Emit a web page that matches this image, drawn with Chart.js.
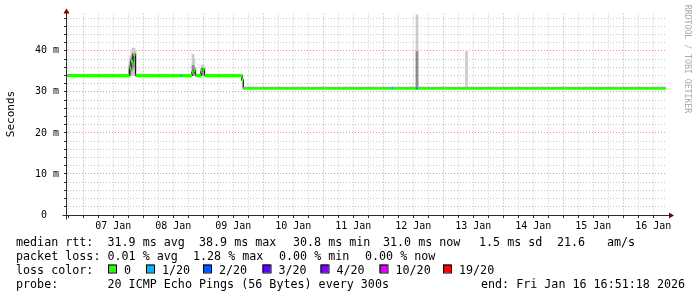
<!DOCTYPE html>
<html>
<head>
<meta charset="utf-8">
<script src="https://cdn.jsdelivr.net/npm/chart.js@4.4.1/dist/chart.umd.min.js"></script>
<style>
  html, body { margin: 0; padding: 0; background: #fff; }
  canvas { display: block; }
</style>
</head>
<body>
<canvas id="graph" width="697" height="297"></canvas>
<script>
// hours since 06 Jan 00:00 - each median value holds until the next time
const stepTimes = [17.5, 42.5, 43.1, 43.9, 44.9, 62.9, 63.5, 67.5, 68.1, 68.9, 71.1, 71.7, 72.5, 87.5, 88.0, 147.5, 147.9, 157.2, 157.8];
const endTime = 257.1;
const medianMs = [34.0, 35.8, 37.4, 39.2, 34.0, 34.0, 34.0, 34.8, 35.3, 34.0, 35.0, 35.6, 34.0, 32.9, 30.9, 30.9, 30.9, 30.8, 30.9];
const lossCount = [0, 0, 0, 0, 0, 1, 0, 0, 0, 0, 0, 0, 0, 0, 0, 1, 0, 1, 0];

// smoke: spread of the single pings
const smokeTimes = [42.7, 43.1, 43.5, 43.9, 44.3, 44.7, 67.9, 68.3, 71.5, 71.9, 157.5, 177.3];
const smokeLow  = [34.0, 34.5, 34.0, 34.5, 35.0, 34.0, 34.0, 34.0, 34.0, 34.0, 30.9, 31.4];
const smokeHigh = [37.2, 38.8, 39.8, 40.7, 40.7, 40.0, 39.2, 38.0, 36.4, 36.6, 48.8, 39.8];
const coreLow   = [34.0, 35.0, 35.5, 36.0, null, null, 34.0, 34.5, 34.0, null, 30.9, null];
const coreHigh  = [36.5, 38.0, 38.5, 39.0, null, null, 36.5, 36.0, 35.8, null, 39.8, null];

const dayLabels = ['07 Jan', '08 Jan', '09 Jan', '10 Jan', '11 Jan', '12 Jan', '13 Jan', '14 Jan', '15 Jan', '16 Jan'];
const yTicks = [0, 2, 4, 6, 8, 10, 12, 14, 16, 18, 20, 22, 24, 26, 28, 30, 32, 34, 36, 38, 40, 42, 44, 46, 48];

const lossLevels = [0, 1, 2, 3, 4, 10, 19];
const lossColors = ['#26ff00', '#00b8ff', '#0059ff', '#5e00ff', '#7e00ff', '#dd00ff', '#ff0000'];
const lossLabels = ['0', '1/20', '2/20', '3/20', '4/20', '10/20', '19/20'];

const rttLine  = ['median rtt:', '31.9 ms avg', '38.9 ms max', '30.8 ms min', '31.0 ms now', '1.5 ms sd', '21.6', 'am/s'];
const lossLine = ['packet loss:', '0.01 % avg', '1.28 % max', '0.00 % min', '0.00 % now'];
const probeLine = ['probe:', '20 ICMP Echo Pings (56 Bytes) every 300s', 'end: Fri Jan 16 16:51:18 2026'];

const MONO = '"DejaVu Sans Mono", monospace';
const GRID_GRAY = '#c4c4c4';
const GRID_RED = '#dc9a9a';

function lossColor(n) {
  let c = lossColors[0];
  lossLevels.forEach((lv, i) => { if (n >= lv) c = lossColors[i]; });
  return c;
}

// build the median segments from the step arrays
const colorPts = [];
const blackPts = [];
stepTimes.forEach((t, i) => {
  const t2 = i + 1 < stepTimes.length ? stepTimes[i + 1] : endTime;
  colorPts.push({x: t, y: medianMs[i]}, {x: t2, y: medianMs[i]}, {x: t2, y: null});
  blackPts.push({x: t, y: medianMs[i]}, {x: t2, y: medianMs[i]});
});

const smokePts = smokeTimes.map((t, i) => ({x: t, y: [smokeLow[i], smokeHigh[i]]}));
const corePts = smokeTimes.map((t, i) => ({x: t, y: [coreLow[i], coreHigh[i]]})).filter(p => p.y[0] !== null);

// x ticks every 6 hours, labels at noon
const xTickVals = [];
for (let d = 0; d <= dayLabels.length; d++) {
  [18, 24, 30, 36].forEach(h => {
    const v = 24 * d + h;
    if (v > 17.5 && v < 257.5) xTickVals.push(v);
  });
}

const decor = {
  id: 'decor',
  afterDraw(chart) {
    const ctx = chart.ctx;
    const a = chart.chartArea;
    const ax = Math.floor(a.left) - 0.5;
    const ay = Math.round(a.bottom) + 0.5;
    ctx.save();
    ctx.strokeStyle = '#2c2c2c';
    ctx.lineWidth = 1;
    ctx.beginPath();
    ctx.moveTo(ax, ay + 4);
    ctx.lineTo(ax, a.top - 1);
    ctx.moveTo(ax - 4, ay);
    ctx.lineTo(a.right + 2, ay);
    ctx.stroke();
    ctx.fillStyle = '#7f0000';
    ctx.beginPath();
    ctx.moveTo(ax - 3, a.top);
    ctx.lineTo(ax + 3, a.top);
    ctx.lineTo(ax, a.top - 5);
    ctx.closePath();
    ctx.fill();
    ctx.beginPath();
    ctx.moveTo(a.right + 2, ay - 3);
    ctx.lineTo(a.right + 2, ay + 3);
    ctx.lineTo(a.right + 7, ay);
    ctx.closePath();
    ctx.fill();

    // axis title
    ctx.fillStyle = '#000';
    ctx.font = '11px ' + MONO;
    ctx.textAlign = 'center';
    ctx.textBaseline = 'middle';
    ctx.save();
    ctx.translate(11, 114);
    ctx.rotate(-Math.PI / 2);
    ctx.fillText('Seconds', 0, 0);
    ctx.restore();

    // watermark
    ctx.save();
    ctx.fillStyle = '#a8a8a8';
    ctx.font = '8.2px ' + MONO;
    ctx.translate(687.5, 59);
    ctx.rotate(Math.PI / 2);
    ctx.fillText('RRDTOOL / TOBI OETIKER', 0, 0);
    ctx.restore();

    // legend
    ctx.font = '11.7px ' + MONO;
    ctx.textAlign = 'left';
    ctx.textBaseline = 'alphabetic';
    ctx.fillStyle = '#000';
    const rttX = [16, 107.5, 199, 293, 383, 479, 557, 607];
    rttLine.forEach((s, i) => ctx.fillText(s, rttX[i], 245.5));
    const lossX = [16, 107.5, 193, 279, 365];
    lossLine.forEach((s, i) => ctx.fillText(s, lossX[i], 259.5));
    ctx.fillText('loss color:', 16, 273.5);
    const boxX = [108, 146, 203, 262.5, 320.5, 379.5, 443];
    lossLabels.forEach((s, i) => {
      ctx.fillStyle = lossColors[i];
      ctx.fillRect(boxX[i], 264.5, 8, 8);
      ctx.strokeStyle = '#000';
      ctx.strokeRect(boxX[i] + 0.5, 264.5 + 0.5, 8, 8);
      ctx.fillStyle = '#000';
      ctx.fillText(s, boxX[i] + 16, 273.5);
    });
    const probeX = [16, 107.5, 481];
    probeLine.forEach((s, i) => ctx.fillText(s, probeX[i], 287.5));
    ctx.restore();
  }
};

new Chart(document.getElementById('graph'), {
  type: 'line',
  data: {
    datasets: [
      {
        type: 'bar',
        data: smokePts,
        backgroundColor: '#cccccc',
        barThickness: 2,
        grouped: false,
        order: 4
      },
      {
        type: 'bar',
        data: corePts,
        backgroundColor: '#8c8c8c',
        barThickness: 2,
        grouped: false,
        order: 3
      },
      {
        data: blackPts,
        borderColor: '#1a1a1a',
        borderWidth: 1.3,
        pointRadius: 0,
        tension: 0,
        order: 2
      },
      {
        data: colorPts,
        borderColor: '#26ff00',
        borderWidth: 3,
        pointRadius: 0,
        tension: 0,
        spanGaps: false,
        segment: {
          borderColor: (c) => lossColor(lossCount[Math.floor(c.p0DataIndex / 3)])
        },
        order: 1
      }
    ]
  },
  options: {
    responsive: false,
    animation: false,
    devicePixelRatio: 1,
    layout: { padding: { left: 0, right: 30, top: 13.5, bottom: 0 } },
    plugins: { legend: { display: false }, tooltip: { enabled: false } },
    scales: {
      x: {
        type: 'linear',
        min: 17.5,
        max: 257.5,
        offset: false,
        afterFit: (s) => { s.height = 82; },
        afterBuildTicks: (s) => { s.ticks = xTickVals.map(v => ({value: v})); },
        ticks: {
          autoSkip: false,
          maxRotation: 0,
          padding: 2,
          color: '#000',
          font: { family: MONO, size: 10 },
          callback: (v) => (v % 24 === 12 ? dayLabels[Math.floor(v / 24) - 1] : '')
        },
        grid: {
          offset: false,
          color: (c) => (c.tick && c.tick.value % 24 === 0 ? GRID_RED : GRID_GRAY),
          tickColor: '#2c2c2c',
          tickLength: 3
        },
        border: { display: false, dash: [1, 2] }
      },
      y: {
        min: 0,
        max: 49.1,
        afterFit: (s) => { s.width = 67; },
        afterBuildTicks: (s) => { s.ticks = yTicks.map(v => ({value: v})); },
        ticks: {
          autoSkip: false,
          padding: 5,
          color: '#000',
          font: { family: MONO, size: 10 },
          callback: (v) => (v === 0 ? '0  ' : (v % 10 === 0 ? v + ' m' : ''))
        },
        grid: {
          color: (c) => (c.tick && c.tick.value % 10 === 0 ? GRID_RED : GRID_GRAY),
          tickColor: '#2c2c2c',
          tickLength: 3
        },
        border: { display: false, dash: [1, 2] }
      }
    }
  },
  plugins: [decor]
});
</script>
</body>
</html>
